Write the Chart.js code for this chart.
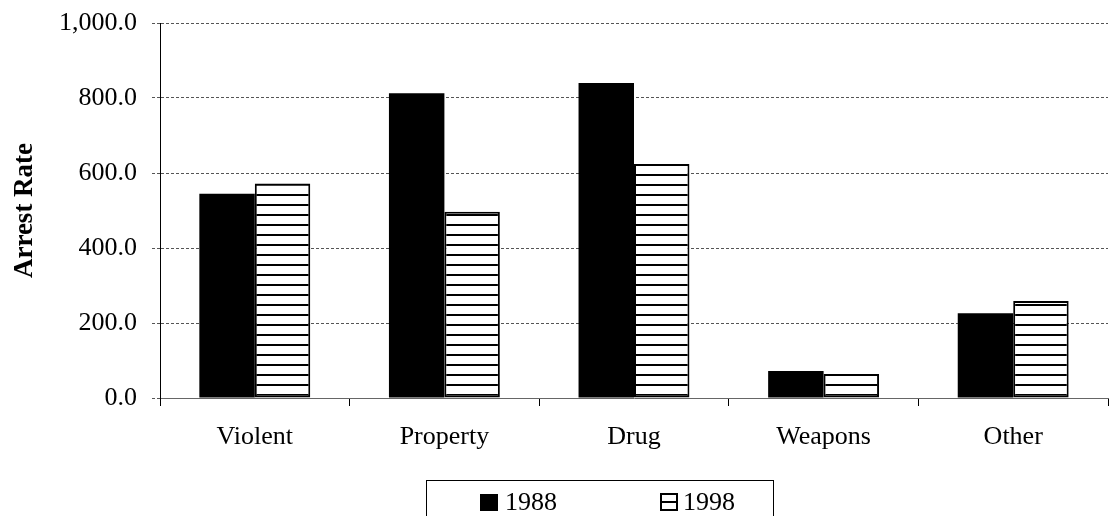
<!DOCTYPE html>
<html>
<head>
<meta charset="utf-8">
<script src="https://cdn.jsdelivr.net/npm/chart.js@4/dist/chart.umd.min.js"></script>
<style>
  body { margin: 0; background: #fff; }
  #wrap { width: 1110px; height: 516px; }
</style>
</head>
<body>
<div id="wrap"><canvas id="chart" width="1110" height="516"></canvas></div>
<script>
const categories = ['Violent', 'Property', 'Drug', 'Weapons', 'Other'];
const rates1988 = [545, 813, 840, 72, 226];
const rates1998 = [572, 497, 624, 64, 259];
const seriesLabels = ['1988', '1998'];
const yTicks = [0, 200, 400, 600, 800, 1000];

const FONT = 'Liberation Serif, "Times New Roman", serif';

// horizontal stripes for the 1998 bars
function makeHatch() {
  const c = document.createElement('canvas');
  c.width = 10; c.height = 10;
  const g = c.getContext('2d');
  g.fillStyle = '#fff';
  g.fillRect(0, 0, 10, 10);
  g.fillStyle = '#000';
  g.fillRect(0, 4, 10, 2);
  return g.createPattern(c, 'repeat');
}
const hatch = makeHatch();

// boxed legend under the axis, like the original
const boxLegend = {
  id: 'boxLegend',
  afterDraw(chart) {
    const ctx = chart.ctx;
    ctx.save();
    ctx.strokeStyle = '#000';
    ctx.lineWidth = 1;
    ctx.strokeRect(426.5, 480.5, 347, 50);

    ctx.font = '26px ' + FONT;
    ctx.textBaseline = 'middle';
    ctx.fillStyle = '#000';

    // 1988 marker
    ctx.fillRect(480, 494, 18, 17);
    ctx.fillText(chart.data.datasets[0].label, 505, 503);

    // 1998 marker
    ctx.fillStyle = '#fff';
    ctx.fillRect(661, 494, 16, 16);
    ctx.lineWidth = 2;
    ctx.strokeRect(661, 494, 16, 16);
    ctx.beginPath();
    ctx.moveTo(661, 502);
    ctx.lineTo(677, 502);
    ctx.stroke();
    ctx.fillStyle = '#000';
    ctx.fillText(chart.data.datasets[1].label, 683, 503);
    ctx.restore();
  }
};

const ctx = document.getElementById('chart').getContext('2d');
new Chart(ctx, {
  type: 'bar',
  data: {
    labels: categories,
    datasets: [
      {
        label: seriesLabels[0],
        data: rates1988,
        backgroundColor: '#000',
        borderColor: '#000',
        borderWidth: 0,
        barPercentage: 1.0,
        categoryPercentage: 0.585
      },
      {
        label: seriesLabels[1],
        data: rates1998,
        backgroundColor: hatch,
        borderColor: '#000',
        borderWidth: 2,
        borderSkipped: false,
        barPercentage: 1.0,
        categoryPercentage: 0.585
      }
    ]
  },
  options: {
    responsive: false,
    animation: false,
    devicePixelRatio: 1,
    layout: { padding: { top: 23, right: 2, left: 0, bottom: 0 } },
    plugins: {
      legend: { display: false },
      tooltip: { enabled: false }
    },
    scales: {
      x: {
        offset: true,
        afterFit: (s) => { s.height = 118; },
        grid: {
          offset: true,
          drawOnChartArea: false,
          drawTicks: true,
          tickLength: 8,
          color: '#000'
        },
        border: { display: true, color: '#666', width: 1 },
        ticks: {
          color: '#000',
          padding: 16,
          maxRotation: 0,
          font: { family: FONT, size: 26 }
        }
      },
      y: {
        min: 0,
        max: 1000,
        afterFit: (s) => { s.width = 160; s.paddingTop = 0; s.paddingBottom = 0; },
        afterBuildTicks: (s) => { s.ticks = yTicks.map(v => ({ value: v })); },
        grid: {
          color: '#555',
          tickLength: 8,
          tickBorderDash: [3, 2]
        },
        border: { display: true, color: '#000', width: 1, dash: [3, 2] },
        ticks: {
          color: '#000',
          padding: 15,
          font: { family: FONT, size: 26 },
          callback: (v) => Number(v).toLocaleString('en-US', { minimumFractionDigits: 1, maximumFractionDigits: 1 })
        },
        title: {
          display: true,
          text: 'Arrest Rate',
          color: '#000',
          padding: { top: 9, bottom: 0 },
          font: { family: FONT, size: 27, weight: 'bold' }
        }
      }
    }
  },
  plugins: [boxLegend]
});
</script>
</body>
</html>
